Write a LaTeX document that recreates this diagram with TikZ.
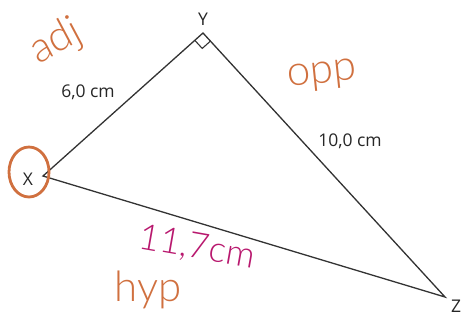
\documentclass[tikz,border=0pt]{standalone}
\usetikzlibrary{calc}
\usepackage{fontspec}
\setmainfont{Open Sans}
\newfontfamily\handfont{Lato Light}
\definecolor{inkorange}{HTML}{D0703F}
\definecolor{inkmagenta}{HTML}{B8186E}
\begin{document}
\begin{tikzpicture}[x=1pt,y=-1pt,
  side/.style={draw=black!80, line width=1.3pt},
  lbl/.style={font=\fontsize{17.5}{19}\selectfont, text=black!85, inner sep=0pt},
  hand/.style={font=\handfont\fontsize{42}{42}\selectfont, inner sep=0pt},
  orangeink/.style={text=inkorange},
  magentaink/.style={text=inkmagenta}]
\useasboundingbox (0,0) rectangle (476,327);
\coordinate (X) at (43,176);
\coordinate (Y) at (203,33);
\coordinate (Z) at (445,297);
\draw[side, line join=miter] (X) -- (Y) -- (Z) -- cycle;
% right angle marker
\coordinate (ra1) at ($(Y)!11pt!(X)$);
\coordinate (ra2) at ($(Y)!11pt!(Z)$);
\draw[side, line width=1.1pt] (ra1) -- ($(ra1)+(ra2)-(Y)$) coordinate (ra3) -- (ra2);
% vertex labels
\node[lbl] (ly) at (203,19) {Y};
\node[lbl] (lx) at (28,179) {X};
\node[lbl] (lz) at (456,306) {Z};
% side labels
\node[lbl] (l6) at (88,92) {6,0 cm};
\node[lbl] (l10) at (350,141) {10,0 cm};
% handwritten annotations
\draw[inkorange, line width=2.8pt] (29,172) ellipse [x radius=20, y radius=25];
\node[hand, orangeink, rotate=28] (adj) at (56,42) {adj};
\node[hand, orangeink, rotate=6] (opp) at (322,76) {opp};
\node[hand, magentaink, rotate=-10, font=\handfont\fontsize{36}{36}\selectfont] (hyplen) at (197,248) {11,7cm};
\node[hand, orangeink] (hyp) at (148,290) {hyp};
\end{tikzpicture}
\end{document}
